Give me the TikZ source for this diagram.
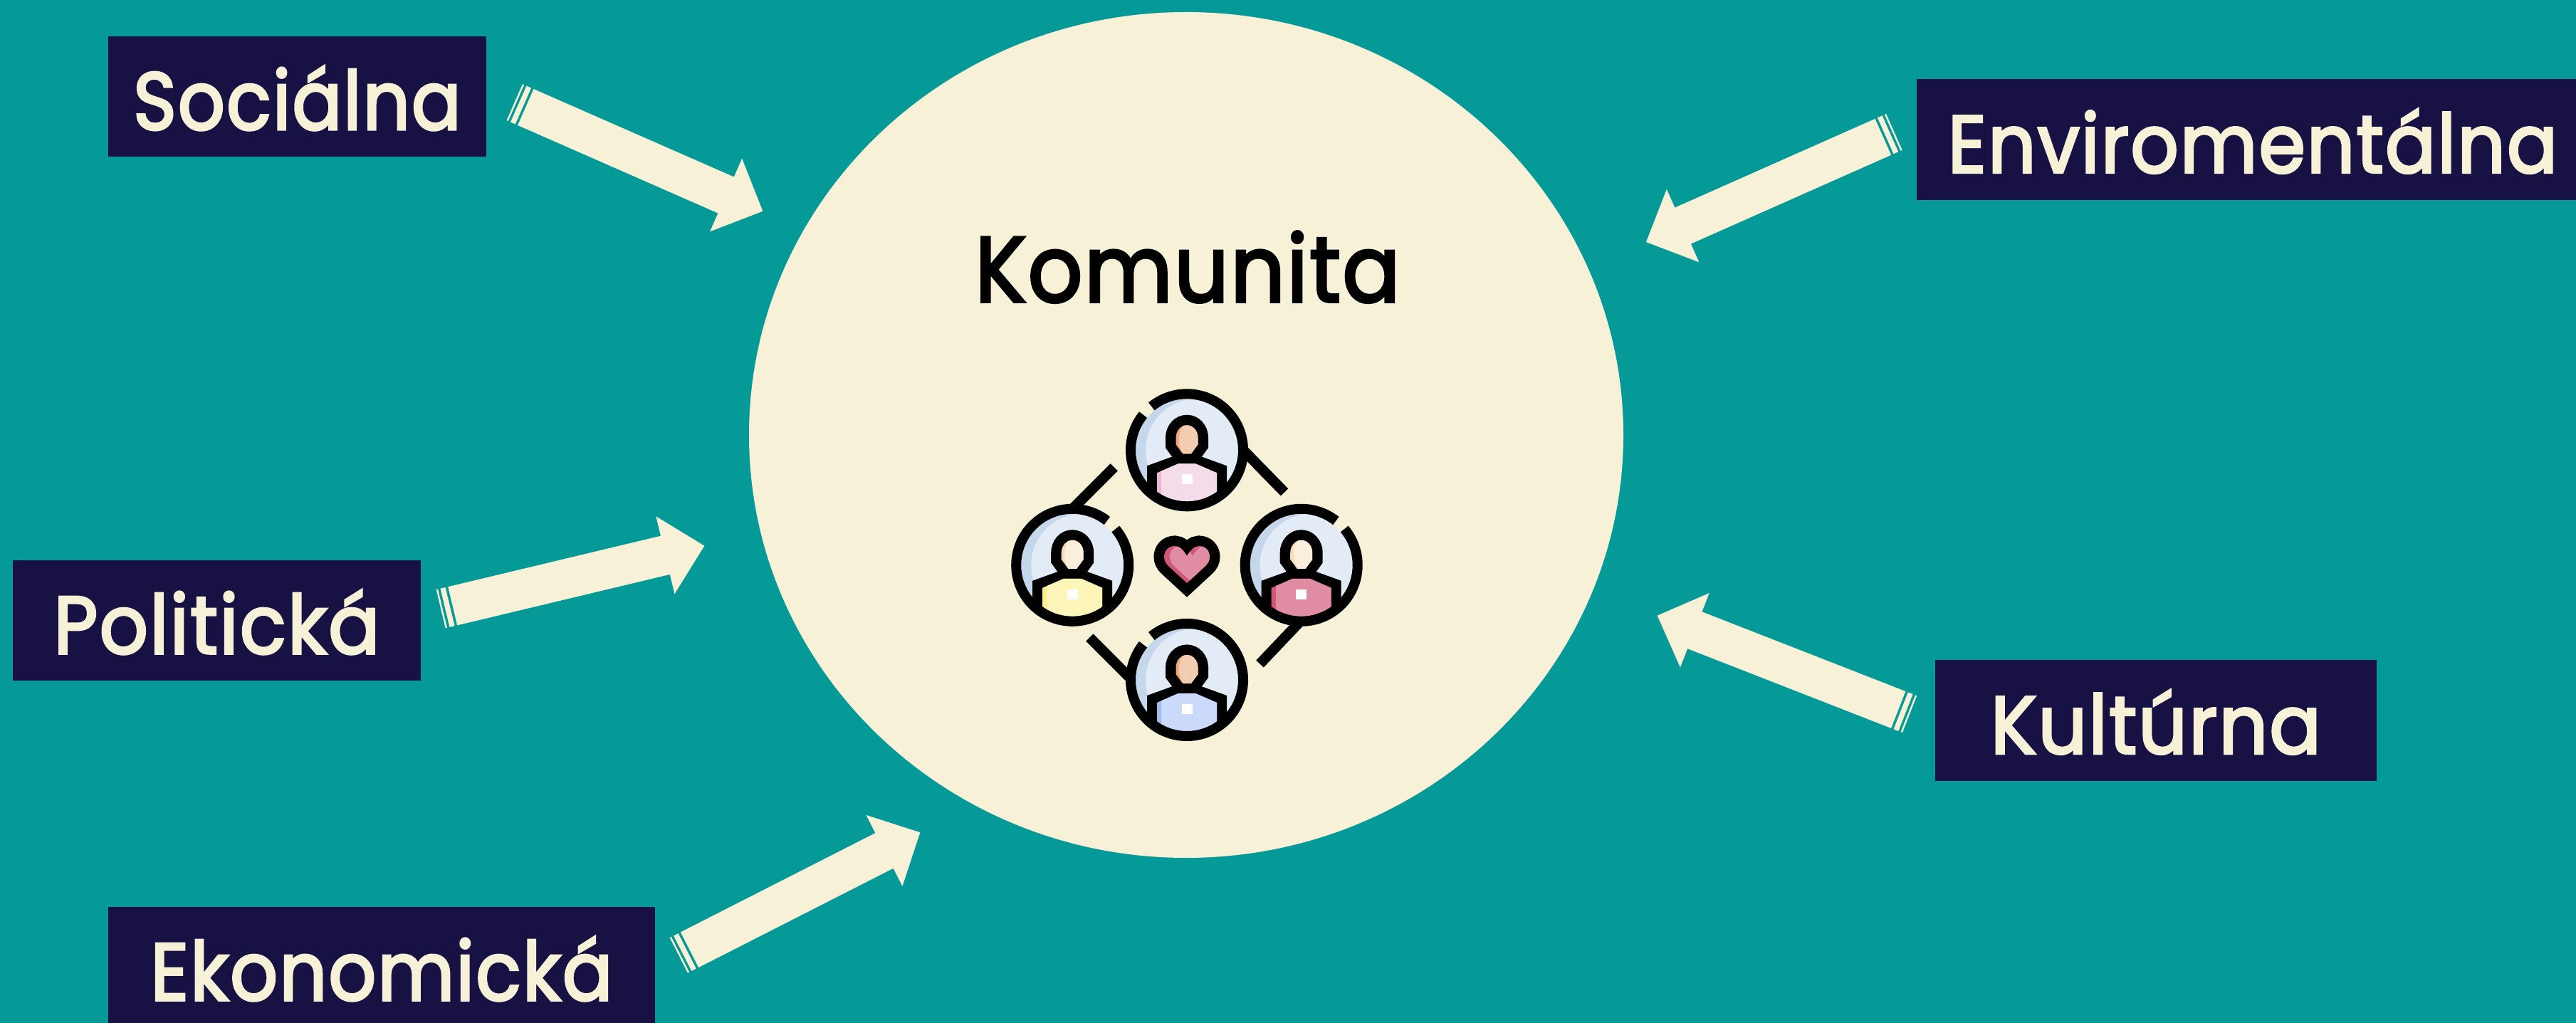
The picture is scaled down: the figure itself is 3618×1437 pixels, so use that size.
\documentclass[tikz,border=0pt]{standalone}
\usepackage{fontspec}
\setmainfont{Poppins}[FakeBold=3,LetterSpace=2]
\usetikzlibrary{calc}
\definecolor{teal1}{HTML}{059A97}
\definecolor{cream}{HTML}{F7F2D7}
\definecolor{navy}{HTML}{181144}
\definecolor{ringlight}{HTML}{E3EBF6}
\definecolor{ringdark}{HTML}{C5D7EA}
\definecolor{shirtA}{HTML}{F4DCEA}\definecolor{shirtAd}{HTML}{EBB6D5}
\definecolor{shirtB}{HTML}{FDF6B8}\definecolor{shirtBd}{HTML}{FAEE8A}
\definecolor{shirtC}{HTML}{E08DA3}\definecolor{shirtCd}{HTML}{D0567A}
\definecolor{shirtD}{HTML}{CBDAFB}\definecolor{shirtDd}{HTML}{A2B9F5}
\definecolor{skinA}{HTML}{F3CDB2}\definecolor{skinAd}{HTML}{EFA97F}
\definecolor{skinB}{HTML}{FBEEDD}\definecolor{skinBd}{HTML}{F8DDBB}
\tikzset{
  labelbox/.style={fill=navy,text=cream,inner sep=0pt,minimum height=1.69cm,
    text height=1cm,text depth=0.07cm,font=\fontsize{32.5}{36}\selectfont},
  iconline/.style={black,line width=0.145cm}
}
\newcommand\sx[2]{\scalebox{#1}[1]{#2}}
\newcommand\barpiece[4]{% tail, tip, from, to
  \coordinate (P) at ($(#1)!#3!(#2)$);
  \coordinate (Q) at ($(#1)!#4!(#2)$);
  \fill[cream] ($(P)!0.278cm!90:(#2)$) -- ($(P)!0.278cm!-90:(#2)$)
     -- ($(Q)!0.278cm!-90:(#2)$) -- ($(Q)!0.278cm!90:(#2)$) -- cycle;}
\newcommand\fatarrow[2]{%
  \coordinate (S) at ($(#2)!0.564cm!(#1)$);
  \fill[cream] ($(#1)!0.278cm!90:(#2)$) -- ($(S)!0.278cm!90:(#2)$)
     -- ($(S)!0.56cm!90:(#2)$) -- (#2) -- ($(S)!0.56cm!-90:(#2)$)
     -- ($(S)!0.278cm!-90:(#2)$) -- ($(#1)!0.278cm!-90:(#2)$) -- cycle;
  \barpiece{#1}{#2}{-0.037cm}{-0.11cm}
  \barpiece{#1}{#2}{-0.146cm}{-0.17cm}}
\newcommand\headpath{(-15.5,-8) -- (-15.5,-17) .. controls (-15.5,-28) and (-8,-35) .. (0,-35)
        .. controls (8,-35) and (15.5,-28) .. (15.5,-17) -- (15.5,-8) -- (6,5) -- (-6,5) -- cycle}
\newcommand\heartpath{(1667,781) .. controls (1672,773) and (1677,767) .. (1684,767)
  .. controls (1693,767) and (1699,774) .. (1699,782)
  .. controls (1699,787) and (1697,791) .. (1693,795) -- (1667,819)
  -- (1641,795) .. controls (1637,791) and (1635,787) .. (1635,782)
  .. controls (1635,774) and (1641,767) .. (1650,767)
  .. controls (1657,767) and (1662,773) .. (1667,781) -- cycle}
% cx, cy, shirt, skin, gap arc start, gap arc end
\newcommand\person[6]{%
  \begin{scope}[shift={(#1,#2)}]
    \fill[ringdark] (0,0) circle[radius=72];
    \begin{scope}
      \clip (0,0) circle[radius=72];
      \fill[ringlight] (14,0) circle[radius=72];
      \path[draw=black,line width=0.29cm,line join=miter] \headpath;
      \begin{scope}
        \clip \headpath;
        \fill[#4d] (-20,-40) rectangle (20,10);
        \fill[#4] (5,-15) ellipse[x radius=16,y radius=26];
      \end{scope}
    \end{scope}
    \begin{scope}
      \clip (0,0) circle[radius=79];
      \fill[black] (-56,22) -- (-20,9) -- (20,9) -- (56,22) -- (56,90) -- (-56,90) -- cycle;
    \end{scope}
    \begin{scope}
      \clip (0,0) circle[radius=72];
      \clip (-42,32) -- (-12,19) -- (12,19) -- (42,32) -- (42,90) -- (-42,90) -- cycle;
      \fill[#3d] (-60,0) rectangle (60,90);
      \fill[#3] (-36,0) rectangle (60,90);
    \end{scope}
    \fill[white] (-7.5,34) rectangle (7.5,48);
    \draw[black,line width=0.14cm] (#5:79) arc[start angle=#5,end angle=#6,radius=79];
  \end{scope}}
\begin{document}
\begin{tikzpicture}[x=0.01cm,y=-0.01cm]
\useasboundingbox (0,0) rectangle (3618,1437);
\fill[teal1] (0,0) rectangle (3618,1437);
\clip (0,0) rectangle (3618,1437);

\fill[cream] (1666,611) ellipse[x radius=614,y radius=594];
\node[font=\fontsize{37}{40}\selectfont,text=black,anchor=base,inner sep=0pt] (komunita) at (1668,424) {\sx{0.922}{Komunita}};

% boxes
\node[labelbox,minimum width=5.31cm] (socialna) at (417.5,135.5) {\sx{0.904}{Sociálna}};
\node[labelbox,minimum width=9.26cm] (enviro) at (3155,196) {\hspace*{0.18cm}\sx{0.922}{Enviromentálna}};
\node[labelbox,minimum width=5.73cm] (politicka) at (304.5,871.5) {\sx{0.937}{Politická}};
\node[labelbox,minimum width=6.2cm] (kulturna) at (3028,1012) {\sx{0.94}{Kultúrna}};
\node[labelbox,minimum width=7.68cm,minimum height=1.63cm,text height=1.05cm,text depth=0.06cm] (ekonomicka) at (536,1355.5) {\sx{0.916}{Ekonomická}};

% arrows
\coordinate (a1) at (738.3,150.5);  \coordinate (b1) at (1071.3,296.7);
\coordinate (a2) at (2644.8,192.3); \coordinate (b2) at (2312,340);
\coordinate (a3) at (2666.2,997);   \coordinate (b3) at (2327.7,864.7);
\coordinate (a4) at (635.7,851.3);  \coordinate (b4) at (989.3,766.7);
\coordinate (a5) at (968.5,1334.2); \coordinate (b5) at (1292.3,1169.3);
\fatarrow{a1}{b1}
\fatarrow{a2}{b2}
\fatarrow{a3}{b3}
\fatarrow{a4}{b4}
\fatarrow{a5}{b5}

% icon links
\draw[iconline] (1564.7,656.4) -- (1505,716);
\draw[iconline] (1745,631) -- (1804,691.5);
\draw[iconline] (1827,872) -- (1769.5,932.5);
\draw[iconline] (1530.3,895.5) -- (1593,958);

\person{1667}{632.3}{shirtA}{skinA}{-129}{219}
\person{1506.2}{793.8}{shirtB}{skinB}{-40}{308}
\person{1827.7}{793.8}{shirtC}{skinB}{-40}{308}
\person{1667}{955}{shirtD}{skinA}{-129}{219}

% heart
\path[draw=black,line width=0.29cm,line join=miter,miter limit=4] \heartpath;
\begin{scope}
  \clip \heartpath;
  \fill[shirtCd] (1630,760) rectangle (1705,825);
  \begin{scope}[xshift=0.08cm]
    \fill[shirtC] \heartpath;
  \end{scope}
\end{scope}
\end{tikzpicture}
\end{document}
